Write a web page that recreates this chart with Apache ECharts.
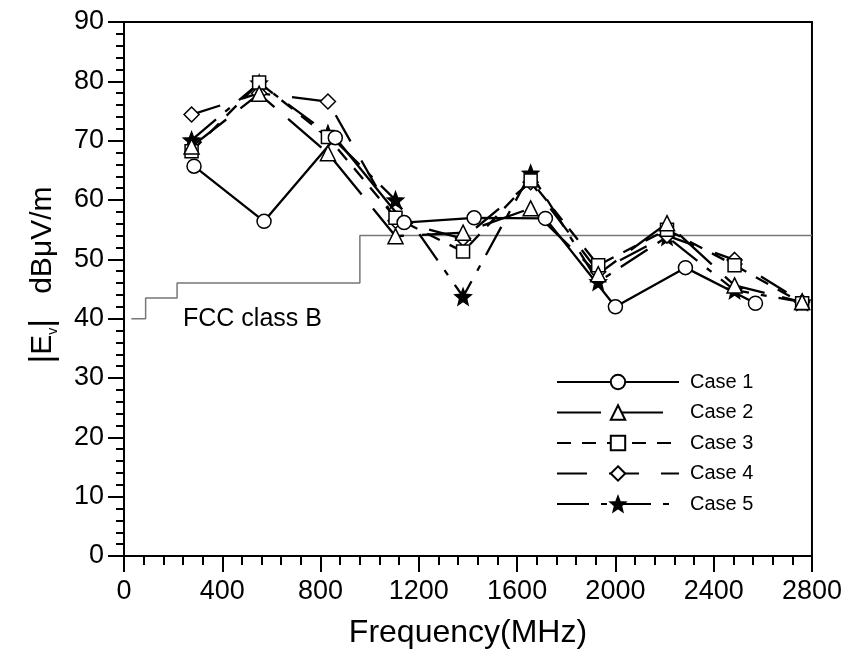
<!DOCTYPE html>
<html>
<head>
<meta charset="utf-8">
<script src="https://cdn.jsdelivr.net/npm/echarts@6/dist/echarts.min.js"></script>
<style>
  html, body { margin: 0; padding: 0; background: #fff; }
  #chart { width: 845px; height: 658px; }
</style>
</head>
<body>
<div id="chart"></div>
<script>
// frequencies (MHz)
const freq1 = [285, 570, 860, 1140, 1425, 1715, 2000, 2285, 2570];
const freq = [275, 550, 830, 1105, 1380, 1655, 1930, 2210, 2485, 2760];

// |Ev| dBuV/m
const case1 = [65.7, 56.4, 70.5, 56.2, 57.0, 56.9, 42.0, 48.6, 42.6];
const case2 = [69.0, 77.9, 67.9, 53.9, 54.5, 58.6, 47.5, 56.1, 45.6, 42.8];
const case3 = [68.2, 79.8, 70.6, 57.0, 51.3, 63.3, 49.0, 55.0, 49.0, 42.6];
const case4 = [74.4, 78.0, 76.6, 56.5, 53.5, 63.0, 47.9, 54.0, 49.9, 42.8];
const case5 = [70.1, 79.7, 71.2, 60.0, 43.7, 64.5, 46.2, 53.8, 44.8, 42.8];

// FCC class B limit (step)
const fccFreq = [30, 88, 216, 960, 2800];
const fccLimit = [40, 43.5, 46, 54, 54];

const FONT = 'Liberation Sans, Arial, sans-serif';
const starPath = 'path://M12,1 L14.9,8.6 L23,9.2 L16.8,14.4 L18.8,22.5 L12,18 L5.2,22.5 L7.2,14.4 L1,9.2 L9.1,8.6 Z';

const zip = (xs, ys) => xs.map((x, i) => [x, ys[i]]);

function caseSeries(name, xs, ys, symbol, dash, size, fill) {
  return {
    name: name,
    type: 'line',
    data: zip(xs, ys),
    symbol: symbol,
    symbolSize: size,
    showAllSymbol: true,
    lineStyle: { color: '#000', width: 2.3, type: dash },
    itemStyle: { color: fill, borderColor: '#000', borderWidth: 1.5 },
    emphasis: { disabled: true },
    animation: false,
  };
}

const myChart = echarts.init(document.getElementById('chart'));
const option = {
  backgroundColor: '#fff',
  textStyle: { fontFamily: FONT },
  grid: {
    left: 124,
    right: 32,
    top: 22,
    bottom: 102,
    show: true,
    borderColor: '#000',
    borderWidth: 2,
  },
  legend: {
    data: ['Case 1', 'Case 2', 'Case 3', 'Case 4', 'Case 5'],
    orient: 'vertical',
    left: 556,
    top: 372,
    itemWidth: 122,
    itemHeight: 18,
    itemGap: 10.5,
    padding: 0,
    textStyle: { fontSize: 20, color: '#000', fontFamily: FONT, padding: [0, 0, 0, 6] },
  },
  xAxis: {
    type: 'value',
    min: 0,
    max: 2800,
    interval: 400,
    name: 'Frequency(MHz)',
    nameLocation: 'middle',
    nameGap: 61,
    nameTextStyle: { fontSize: 32, color: '#000', fontFamily: FONT },
    axisLine: { show: true, lineStyle: { color: '#000', width: 2 } },
    axisTick: { show: true, length: 16, lineStyle: { color: '#000', width: 2 } },
    minorTick: { show: true, splitNumber: 5, length: 9, lineStyle: { color: '#000', width: 2 } },
    axisLabel: { fontSize: 27, color: '#000', margin: 22, fontFamily: FONT, formatter: (v) => String(v) },
    splitLine: { show: false },
  },
  yAxis: {
    type: 'value',
    min: 0,
    max: 90,
    interval: 10,
    name: '{b||}{e|E}{s|v}{b||}   dBμV/m',
    nameLocation: 'middle',
    nameRotate: 90,
    nameGap: 64,
    nameTextStyle: {
      fontSize: 30,
      color: '#000',
      fontFamily: FONT,
      padding: [0, 0, 0, 28],
      rich: {
        b: { fontSize: 34, color: '#000', fontFamily: FONT },
        e: { fontSize: 30, color: '#000', fontFamily: FONT },
        s: { fontSize: 14, color: '#000', fontFamily: FONT, verticalAlign: 'bottom', padding: [12, 0, 0, 0] },
      },
    },
    axisLine: { show: true, lineStyle: { color: '#000', width: 2 } },
    axisTick: { show: true, length: 16, lineStyle: { color: '#000', width: 2 } },
    minorTick: { show: true, splitNumber: 5, length: 8, lineStyle: { color: '#000', width: 2 } },
    axisLabel: { fontSize: 27, color: '#000', margin: 20, fontFamily: FONT },
    splitLine: { show: false },
  },
  graphic: [
    {
      type: 'text',
      left: 183,
      top: 307,
      style: { text: 'FCC class B', font: '25px ' + FONT, fill: '#000' },
    },
  ],
  series: [
    {
      name: 'FCC class B',
      type: 'line',
      data: zip(fccFreq, fccLimit),
      step: 'end',
      symbol: 'none',
      lineStyle: { color: '#777', width: 1.5 },
      silent: true,
      animation: false,
      z: 1,
    },
    caseSeries('Case 5', freq, case5, starPath, [32, 12, 6, 12], 16, '#000'),
    caseSeries('Case 4', freq, case4, 'diamond', [30, 22], 15, '#fff'),
    caseSeries('Case 3', freq, case3, 'rect', [14, 11], 13, '#fff'),
    caseSeries('Case 2', freq, case2, 'triangle', [44, 18], 15, '#fff'),
    caseSeries('Case 1', freq1, case1, 'circle', 'solid', 14, '#fff'),
  ],
};
myChart.setOption(option);
</script>
</body>
</html>
